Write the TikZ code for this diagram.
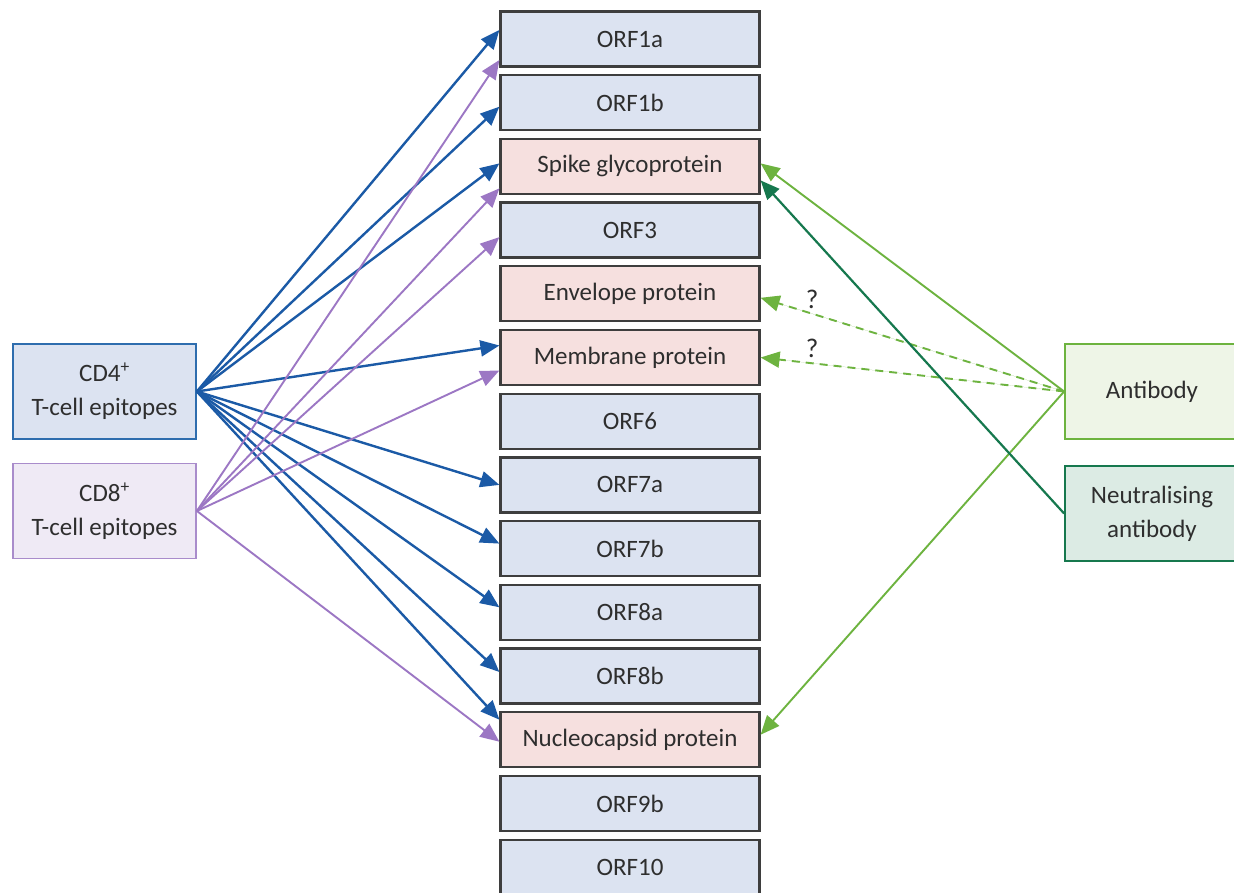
\documentclass[tikz,border=0pt]{standalone}
\usepackage{fontspec}
\setmainfont{Carlito}
\usetikzlibrary{arrows.meta}

\definecolor{orffill}{HTML}{DCE3F1}
\definecolor{protfill}{HTML}{F6E0DF}
\definecolor{boxline}{HTML}{3E3E3E}
\definecolor{txt}{HTML}{2E2E2E}
\definecolor{cdblue}{HTML}{2E6DAE}
\definecolor{cdbluefill}{HTML}{DCE3F1}
\definecolor{cdpurple}{HTML}{A98CCB}
\definecolor{cdpurplefill}{HTML}{EFEAF5}
\definecolor{arrblue}{HTML}{1B5AA6}
\definecolor{arrpurple}{HTML}{9C77C4}
\definecolor{abgreen}{HTML}{6DB33F}
\definecolor{abfill}{HTML}{EEF5E7}
\definecolor{nabgreen}{HTML}{16784E}
\definecolor{nabfill}{HTML}{DCEBE4}

\begin{document}
\begin{tikzpicture}[x=1pt, y=-1pt, font=\fontsize{25}{34}\selectfont, text=txt]

\useasboundingbox (0,0) rectangle (1234,893);
\fill[white] (0,0) rectangle (1234,893);

\tikzstyle{orf} = [rectangle, draw=boxline, line width=2.2pt, fill=orffill, minimum width=259pt, minimum height=55pt, inner sep=0pt]
\tikzstyle{prot} = [orf, fill=protfill]
\tikzstyle{epi} = [rectangle, line width=1.8pt, minimum width=183pt, minimum height=95pt, align=center]
\tikzstyle{tip} = [-{Triangle[length=19pt,width=16pt]}]
\tikzstyle{cdfour} = [tip, draw=arrblue, fill=arrblue, line width=2.4pt]
\tikzstyle{cdeight} = [tip, draw=arrpurple, fill=arrpurple, line width=1.9pt]
\tikzstyle{anti} = [tip, draw=abgreen, fill=abgreen, line width=1.9pt]
\tikzstyle{neut} = [tip, draw=nabgreen, fill=nabgreen, line width=2.2pt]
\tikzstyle{qmark} = [pos=0.83, above=1pt, font=\fontsize{27}{30}\selectfont]

% protein column
\node[orf]  (o1a) at (630,39)    {ORF1a};
\node[orf]  (o1b) at (630,102.7) {ORF1b};
\node[prot] (sp)  at (630,166.4) {Spike glycoprotein};
\node[orf]  (o3)  at (630,230.1) {ORF3};
\node[prot] (en)  at (630,293.8) {Envelope protein};
\node[prot] (me)  at (630,357.5) {Membrane protein};
\node[orf]  (o6)  at (630,421.2) {ORF6};
\node[orf]  (o7a) at (630,484.9) {ORF7a};
\node[orf]  (o7b) at (630,548.6) {ORF7b};
\node[orf]  (o8a) at (630,612.3) {ORF8a};
\node[orf]  (o8b) at (630,676)   {ORF8b};
\node[prot] (nc)  at (630,739.7) {Nucleocapsid protein};
\node[orf]  (o9b) at (630,803.4) {ORF9b};
\node[orf]  (o10) at (630,867.1) {ORF10};

% epitopes and antibodies
\node[epi, draw=cdblue, fill=cdbluefill]     (cd4) at (104.5,391.5) {CD4\textsuperscript{+}\\T-cell epitopes};
\node[epi, draw=cdpurple, fill=cdpurplefill] (cd8) at (104.5,511)   {CD8\textsuperscript{+}\\T-cell epitopes};
\node[epi, draw=abgreen, fill=abfill, minimum width=174pt]    (ab)  at (1152,391.5) {Antibody};
\node[epi, draw=nabgreen, fill=nabfill, minimum width=174pt]  (nab) at (1152,513.5) {Neutralising\\antibody};

\draw[cdfour] (cd4.east) -- ([yshift=9pt]o1a.west);
\draw[cdfour] (cd4.east) -- ([yshift=-4pt]o1b.west);
\draw[cdfour] (cd4.east) -- ([yshift=3pt]sp.west);
\draw[cdfour] (cd4.east) -- ([yshift=12pt]me.west);
\draw[cdfour] (cd4.east) -- (o7a.west);
\draw[cdfour] (cd4.east) -- ([yshift=5pt]o7b.west);
\draw[cdfour] (cd4.east) -- ([yshift=5pt]o8a.west);
\draw[cdfour] (cd4.east) -- ([yshift=4pt]o8b.west);
\draw[cdfour] (cd4.east) -- ([yshift=20pt]nc.west);

\draw[cdeight] (cd8.east) -- ([yshift=-21pt]o1a.west);
\draw[cdeight] (cd8.east) -- ([yshift=-22pt]sp.west);
\draw[cdeight] (cd8.east) -- ([yshift=-7pt]o3.west);
\draw[cdeight] (cd8.east) -- ([yshift=-13pt]me.west);
\draw[cdeight] (cd8.east) -- ([yshift=-2pt]nc.west);

\draw[anti] (ab.west) -- ([yshift=3pt]sp.east);
\draw[anti, dash pattern=on 8pt off 6pt] (ab.west) -- node[qmark] {?} ([yshift=-4pt]en.east);
\draw[anti, dash pattern=on 8pt off 6pt] (ab.west) -- node[qmark] {?} (me.east);
\draw[anti] (ab.west) -- ([yshift=5pt]nc.east);
\draw[neut] (nab.west) -- ([yshift=-14pt]sp.east);

\end{tikzpicture}
\end{document}
